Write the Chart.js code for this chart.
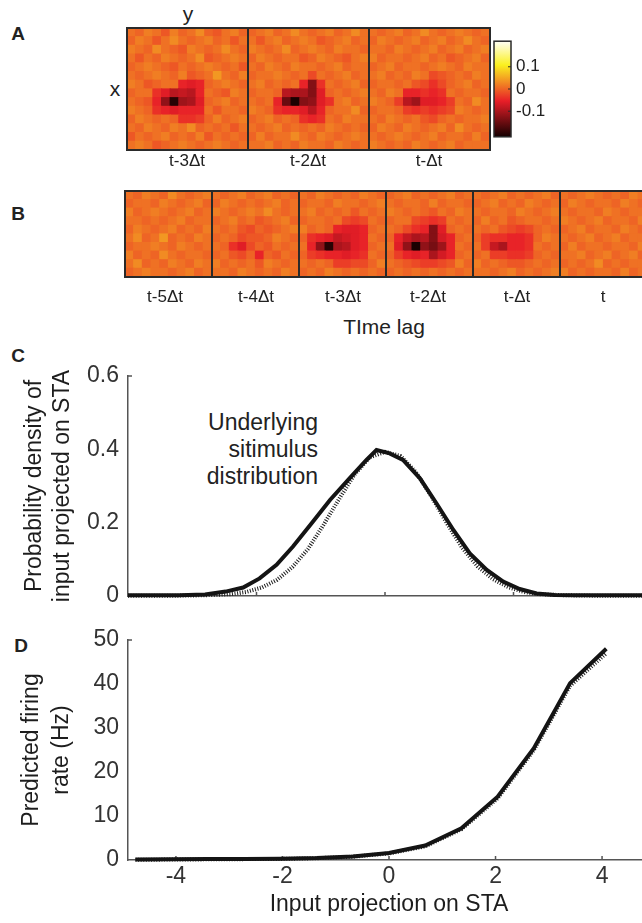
<!DOCTYPE html>
<html>
<head>
<meta charset="utf-8">
<script src="https://cdn.jsdelivr.net/npm/chart.js@4.4.1/dist/chart.umd.min.js"></script>
<style>
  html, body { margin: 0; padding: 0; background: #fff; }
  body { width: 642px; height: 923px; position: relative; overflow: hidden;
         font-family: "Liberation Sans", Arial, sans-serif; color: #222; }
  canvas { position: absolute; }
  .lbl { position: absolute; transform: translate(-50%, -50%); white-space: nowrap; line-height: 1; }
  .panel { font-weight: bold; font-size: 19px; }
  .axis { font-size: 21px; }
  .lag { font-size: 17px; }
  .note { position: absolute; right: 324px; top: 409px; text-align: right;
          font-size: 23px; line-height: 27px; white-space: nowrap; }
</style>
</head>
<body>
<div class="lbl panel" style="left:18px;top:33px">A</div>
<div class="lbl panel" style="left:18px;top:213px">B</div>
<div class="lbl panel" style="left:18px;top:355px">C</div>
<div class="lbl panel" style="left:21px;top:645px">D</div>
<div class="lbl axis" style="left:188px;top:13px">y</div>
<div class="lbl axis" style="left:115px;top:88px">x</div>
<div class="lbl axis" style="left:384px;top:326px">TIme lag</div>
<div class="note">Underlying<br>sitimulus<br>distribution</div>

<canvas id="heatA0" width="123" height="124" style="left:126px;top:27px"></canvas>
<canvas id="heatA1" width="123" height="124" style="left:247px;top:27px"></canvas>
<canvas id="heatA2" width="123" height="124" style="left:368px;top:27px"></canvas>
<canvas id="colorbar" width="60" height="126" style="left:492px;top:26px"></canvas>

<canvas id="heatB0" width="89" height="88" style="left:124px;top:190px"></canvas>
<canvas id="heatB1" width="89" height="88" style="left:211px;top:190px"></canvas>
<canvas id="heatB2" width="89" height="88" style="left:298px;top:190px"></canvas>
<canvas id="heatB3" width="89" height="88" style="left:385px;top:190px"></canvas>
<canvas id="heatB4" width="89" height="88" style="left:472px;top:190px"></canvas>
<canvas id="heatB5" width="89" height="88" style="left:559px;top:190px"></canvas>

<canvas id="densityChart" width="642" height="268" style="left:0;top:352px"></canvas>
<canvas id="rateChart" width="650" height="307" style="left:0;top:616px"></canvas>

<script>
// spike-triggered average frames, values in units of 0.01 (rows top to bottom)
const staA_t3 = [
  [1, 0, 2, 1, -1, 2, 0, 1, 3, 0, -1, 1, 2, 0],
  [0, 2, 1, -1, 1, 3, 1, 0, 1, 2, 0, 1, -1, 1],
  [2, 1, 0, 3, 1, 0, -1, 2, 1, 0, 1, 3, 1, 0],
  [1, -1, 1, 0, 2, 1, 0, 1, 3, -1, 0, 1, 2, 1],
  [0, 1, 2, 1, 0, -1, 1, 0, 1, 2, 1, 0, 1, -1],
  [1, 0, 1, 2, 1, 0, 2, -1, 0, 1, 4, 1, 0, 2],
  [2, 1, -1, 0, 1, 1, -5, -6, -5, 0, 1, 2, 1, 0],
  [0, 1, 1, -4, -6, -9, -8, -9, -5, 1, 0, -1, 2, 1],
  [1, 0, -1, -5, -12, -20, -11, -10, -6, 0, 1, 2, 0, 1],
  [2, 1, 0, -4, -5, -6, -5, -5, -5, 1, -1, 1, 1, 0],
  [0, 2, 1, 0, 1, 0, -4, -4, -3, 0, 2, 0, 1, 2],
  [1, 0, 2, 1, 0, 2, 1, 3, 0, 1, 0, 1, -1, 1],
  [-1, 1, 0, 1, 2, 0, 1, 0, 2, -1, 1, 0, 1, 0],
  [1, 2, 1, -1, 0, 1, 2, 1, 0, 1, 2, 1, 0, 1]
];
const staA_t2 = [
  [0, 1, 2, 0, 1, 3, 1, 0, 1, 2, 0, 1, 3, 1],
  [1, -1, 1, 2, 0, 1, 2, 1, -1, 0, 1, 2, 0, 1],
  [2, 1, 0, 1, 3, 0, 1, 2, 1, 0, 2, 1, 1, 0],
  [0, 2, 1, 0, 1, 1, -1, 0, 2, 1, 0, -1, 1, 2],
  [1, 0, 2, 1, 0, 2, 1, 1, 0, 1, 2, 0, 1, 1],
  [0, 1, 1, 2, 1, 0, 1, -2, 1, 0, 1, 2, 0, 1],
  [1, 2, 0, 1, 0, 1, -5, -13, -4, 1, 0, 1, 2, 0],
  [0, 1, 1, 0, -9, -10, -10, -13, -6, 0, 1, 0, 1, 2],
  [1, 0, 1, -5, -15, -21, -13, -12, -6, -4, 1, 2, 0, 1],
  [2, 1, 0, -4, -5, -5, -6, -9, -5, 0, 1, 1, 3, 0],
  [0, 1, 2, 0, 1, 0, -4, -5, -4, 1, 0, 2, 1, 1],
  [1, 0, 1, 2, 0, 1, 0, 1, 0, 2, 1, 0, 1, 0],
  [0, 2, 0, 1, 1, 3, 1, 0, 2, 1, 0, 1, 2, 1],
  [1, 1, 2, 0, 1, 0, 2, 1, 1, 0, 2, 1, 0, 1]
];
const staA_t1 = [
  [1, 0, 1, 2, 0, 1, 3, 1, 0, 1, 2, 1, 0, 1],
  [0, 2, 1, 0, 1, 2, 0, 1, 2, 0, 1, 3, 1, 0],
  [1, 1, 0, 2, 1, 0, 1, 2, 0, 1, 2, 0, 1, 2],
  [2, 0, 1, 1, 0, 1, 2, 0, 1, -1, 0, 1, 2, 0],
  [0, 1, 2, 0, 1, 1, 0, 1, 2, 1, 0, 2, 1, 1],
  [1, 2, 0, 1, 0, 2, 1, -2, -1, 0, 1, 0, 2, 1],
  [0, 1, 1, 0, 1, -1, -2, -4, -2, 0, 1, 2, 0, 1],
  [1, 0, 2, 1, -5, -5, -4, -5, -4, 1, 0, 1, 1, 0],
  [2, 1, 0, -3, -9, -11, -6, -6, -5, -3, 1, 0, 3, 1],
  [0, 1, 1, 0, -3, -4, -3, -4, -3, -2, 2, 1, 0, 1],
  [1, 0, 2, 1, 0, 1, -1, -2, 0, 1, 0, 1, 1, 2],
  [0, 2, 1, 0, 2, 1, 0, 1, 2, 0, 3, 1, 0, 1],
  [1, 0, 1, 2, 1, 0, 1, 2, 0, 1, 1, 0, 2, 0],
  [2, 1, 0, 1, 0, 2, 1, 0, 1, 2, 0, 1, 1, 1]
];

const staB_t5 = [
  [1, 0, 2, 1, 0, 3, 1, 0, 1, 2],
  [0, 1, 1, 0, 2, 1, 0, 1, 2, 0],
  [2, 0, 1, 2, 1, 0, 1, 2, 0, 1],
  [1, 1, 0, 1, 0, 1, 2, 0, 1, 1],
  [0, 2, 1, 0, 1, 2, 0, 1, 0, 2],
  [1, 3, 0, 1, 4, 0, 1, 0, 2, 1],
  [0, 1, 1, 2, 1, 0, 2, 1, 0, 1],
  [2, 0, 1, 0, 3, 1, 0, 1, 1, 0],
  [1, 3, 0, 1, 0, 2, 1, 0, 2, 1],
  [0, 1, 2, 1, 1, 0, 1, 2, 0, 1]
];
const staB_t4 = [
  [1, 0, 1, 2, 0, 1, 2, 0, 1, 0],
  [0, 2, 1, 0, 1, 0, 1, 2, 0, 1],
  [2, 1, 0, 1, 2, 1, 3, 1, 0, 1],
  [0, 1, 2, 0, 1, -1, 0, 1, 2, 0],
  [1, 0, 1, -1, -2, 0, -1, 0, 1, 2],
  [0, 1, 0, -2, -1, -1, 0, 2, 1, 0],
  [1, 0, -4, -6, -2, 0, -1, 1, 0, 1],
  [0, 1, -1, -2, 0, -5, 0, -1, 1, 0],
  [2, 0, 1, 0, 1, -1, 2, 1, 0, 1],
  [1, 1, 0, 2, 1, 0, 1, 0, 2, 1]
];
const staB_t3 = [
  [1, 0, 2, 1, 0, 1, 0, 2, 1, 0],
  [0, 1, 1, 0, 2, 1, 1, 0, 1, 2],
  [1, 2, 0, 1, 0, 1, -1, 1, 0, 1],
  [0, 1, 1, 0, 1, -2, -3, -2, 1, 0],
  [2, 0, 1, 0, -5, -6, -6, -5, 0, 1],
  [0, -4, -5, -6, -8, -7, -6, -5, 1, 0],
  [1, -5, -12, -20, -10, -9, -6, -5, 0, 1],
  [0, -3, -4, -5, -5, -6, -5, -4, 1, 0],
  [1, 0, 1, 0, -3, -3, -2, -2, 0, 2],
  [0, 1, 0, 2, 1, 0, 1, 0, 1, 0]
];
const staB_t2 = [
  [0, 1, 2, 0, 1, 0, 1, 2, 0, 1],
  [1, 0, 1, 1, 0, 2, 0, 1, 1, 0],
  [2, 1, 0, 1, 0, -1, 1, 0, 2, 1],
  [0, 1, 1, -2, -3, -4, -3, 1, 0, 1],
  [1, 0, -2, -4, -5, -13, -6, 0, 1, 0],
  [0, -5, -8, -10, -9, -13, -7, -5, 0, 1],
  [1, -6, -12, -21, -12, -14, -11, -5, 1, 0],
  [0, -3, -5, -6, -5, -10, -7, -5, 0, 1],
  [1, 0, -1, -2, -3, -3, -2, -1, 2, 0],
  [0, 1, 0, 1, 0, 1, 0, 1, 0, 1]
];
const staB_t1 = [
  [1, 0, 1, 2, 0, 1, 0, 1, 2, 0],
  [0, 1, 2, 0, 1, 0, 2, 1, 0, 1],
  [1, 0, 1, 1, 0, 2, 1, 0, 1, 2],
  [0, 2, 0, 1, -1, 0, 1, 1, 0, 1],
  [1, 0, 1, -1, -2, -3, -2, 0, 1, 0],
  [0, -3, -4, -4, -5, -5, -4, 0, 2, 1],
  [1, -3, -8, -10, -5, -5, -4, 1, 0, 1],
  [0, 1, -3, -3, -4, -4, -3, 0, 1, 0],
  [2, 0, 1, 0, -1, -1, 0, 1, 0, 1],
  [1, 1, 0, 1, 2, 0, 1, 0, 1, 2]
];
const staB_t0 = [
  [1, 0, 1, 2, 1, 0, 1, 0, 2, 1],
  [0, 2, 1, 0, 1, 1, 0, 2, 1, 0],
  [1, 0, 1, 1, 0, 2, 1, 0, 1, 1],
  [2, 1, 0, 1, 2, 0, 1, 1, 0, 2],
  [0, 1, 2, 0, 1, 1, 0, 2, 1, 0],
  [1, 0, 1, 2, 0, 1, 2, 0, 1, 1],
  [0, 2, 0, 1, 1, 0, 1, 1, 0, 2],
  [1, 1, 2, 0, 1, 2, 0, 1, 2, 0],
  [0, 1, 0, 1, 3, 0, 1, 0, 1, 1],
  [2, 0, 1, 0, 1, 1, 0, 2, 0, 1]
];

const lagLabelsA = ['t-3Δt', 't-2Δt', 't-Δt'];
const lagLabelsB = ['t-5Δt', 't-4Δt', 't-3Δt', 't-2Δt', 't-Δt', 't'];
const colorLim = [-0.215, 0.215];
const colorTicks = [-0.1, 0, 0.1];

// panel C: density of the input projected on the STA
const densityX = [-5, -4.5, -4, -3.5, -3.1, -2.76, -2.44, -2.11, -1.79, -1.4, -1.07, -0.69, -0.36, -0.165,
  0.09, 0.35, 0.68, 1.0, 1.33, 1.65, 1.98, 2.3, 2.62, 2.95, 3.3, 3.7, 4.2, 5];
const densityMeasured = [0.002, 0.002, 0.002, 0.004, 0.012, 0.023, 0.048, 0.085, 0.135, 0.203, 0.262, 0.321, 0.371, 0.398,
  0.389, 0.371, 0.321, 0.253, 0.18, 0.116, 0.071, 0.039, 0.019, 0.007, 0.003, 0.002, 0.002, 0.002];
const stimulusX = [-5, -4, -3.5, -3, -2.7, -2.4, -2.1, -1.8, -1.5, -1.2, -0.9, -0.6, -0.3, 0,
  0.3, 0.6, 0.9, 1.2, 1.5, 1.8, 2.1, 2.4, 2.7, 3, 3.5, 4, 5];
const densityStimulus = [0.001, 0.001, 0.002, 0.005, 0.011, 0.023, 0.044, 0.079, 0.128, 0.193, 0.263, 0.33, 0.378, 0.393,
  0.382, 0.338, 0.272, 0.199, 0.132, 0.081, 0.046, 0.024, 0.011, 0.005, 0.002, 0.001, 0.001];
const densityTicksX = [-2.5, 0, 2.5];

// panel D: predicted firing rate
const rateX = [-4.76, -4.08, -3.4, -2.72, -2.04, -1.36, -0.68, 0, 0.68, 1.36, 2.04, 2.72, 3.4, 4.08];
const rateMeasured = [0.1, 0.15, 0.2, 0.25, 0.3, 0.45, 0.8, 1.6, 3.3, 7.2, 14.4, 25.4, 40.2, 48.0];
const rateModel = [0.05, 0.1, 0.15, 0.2, 0.25, 0.4, 0.75, 1.5, 3.1, 7.0, 14.0, 25.0, 39.6, 47.0];
const rateTicksX = [-4, -2, 0, 2, 4];

const fontFamily = '"Liberation Sans", Arial, sans-serif';
Chart.defaults.font.family = fontFamily;
Chart.defaults.color = '#333';

// black -> red -> yellow -> white
const hotStops = [[0, [20, 0, 0]], [0.375, [232, 30, 40]], [0.75, [250, 240, 30]], [1, [255, 255, 248]]];
function hotColor(v) {
  let p = (v - colorLim[0]) / (colorLim[1] - colorLim[0]);
  p = Math.min(1, Math.max(0, p));
  for (let i = 1; i < hotStops.length; i++) {
    const [p0, c0] = hotStops[i - 1];
    const [p1, c1] = hotStops[i];
    if (p <= p1) {
      const t = (p - p0) / (p1 - p0);
      return 'rgb(' + c0.map((c, k) => Math.round(c + (c1[k] - c) * t)).join(',') + ')';
    }
  }
}

const frameBox = {
  id: 'frameBox',
  afterDraw(chart, args, opts) {
    const a = chart.chartArea;
    const ctx = chart.ctx;
    ctx.save();
    ctx.strokeStyle = opts.color;
    ctx.lineWidth = opts.width;
    ctx.strokeRect(a.left, a.top, a.right - a.left, a.bottom - a.top);
    ctx.restore();
  }
};

// matlab style ticks pointing into the plot
const innerTicks = {
  id: 'innerTicks',
  beforeDatasetsDraw(chart, args, opts) {
    const { ctx, chartArea: a, scales } = chart;
    ctx.save();
    ctx.strokeStyle = opts.color;
    ctx.lineWidth = opts.width;
    ctx.beginPath();
    (opts.x || []).forEach(v => {
      const px = scales.x.getPixelForValue(v);
      ctx.moveTo(px, a.bottom);
      ctx.lineTo(px, a.bottom - opts.length);
    });
    (opts.y || []).forEach(v => {
      const py = scales.y.getPixelForValue(v);
      ctx.moveTo(a.left, py);
      ctx.lineTo(a.left + opts.length, py);
    });
    ctx.stroke();
    ctx.restore();
  },
  afterDatasetsDraw(chart, args, opts) {
    if (!opts.yRight) return;
    const { ctx, chartArea: a, scales } = chart;
    ctx.save();
    ctx.strokeStyle = opts.color;
    ctx.lineWidth = opts.width;
    ctx.beginPath();
    opts.yRight.forEach(v => {
      const py = scales.y.getPixelForValue(v);
      ctx.moveTo(a.right, py);
      ctx.lineTo(a.right - opts.length, py);
    });
    ctx.stroke();
    ctx.restore();
  }
};

function heatFrame(id, grid) {
  const n = grid.length;
  // one stacked dataset per row, bottom row first
  const datasets = grid.slice().reverse().map(row => ({
    data: row.map(() => 1),
    backgroundColor: row.map(v => hotColor(v / 100)),
    borderWidth: 0,
    barPercentage: 1,
    categoryPercentage: 1,
    inflateAmount: 0.6
  }));
  new Chart(document.getElementById(id), {
    type: 'bar',
    data: { labels: grid[0].map((_, i) => i), datasets },
    options: {
      responsive: false,
      animation: false,
      events: [],
      layout: { padding: 1 },
      plugins: {
        legend: { display: false },
        tooltip: { enabled: false },
        frameBox: { color: '#2a2a2a', width: 2 }
      },
      scales: {
        x: { display: false, stacked: true },
        y: { display: false, stacked: true, min: 0, max: n }
      }
    },
    plugins: [frameBox]
  });
}

[staA_t3, staA_t2, staA_t1].forEach((g, i) => heatFrame('heatA' + i, g));
[staB_t5, staB_t4, staB_t3, staB_t2, staB_t1, staB_t0].forEach((g, i) => heatFrame('heatB' + i, g));

// frame labels
function addLabel(text, x, y, cls) {
  const d = document.createElement('div');
  d.className = 'lbl ' + cls;
  d.style.left = x + 'px';
  d.style.top = y + 'px';
  d.textContent = text;
  document.body.appendChild(d);
}
const lagPosA = [187, 308, 429];
const lagPosB = [165, 256, 343, 428, 517, 603];
lagLabelsA.forEach((t, i) => addLabel(t, lagPosA[i], 160, 'lag'));
lagLabelsB.forEach((t, i) => addLabel(t, lagPosB[i], 296, 'lag'));

// colour bar
new Chart(document.getElementById('colorbar'), {
  type: 'bar',
  data: {
    labels: [''],
    datasets: [{
      data: [colorLim],
      barPercentage: 1,
      categoryPercentage: 1,
      borderWidth: 0,
      backgroundColor: (ctx) => {
        const area = ctx.chart.chartArea;
        if (!area) return null;
        const g = ctx.chart.ctx.createLinearGradient(0, area.bottom, 0, area.top);
        for (let i = 0; i <= 40; i++) {
          g.addColorStop(i / 40, hotColor(colorLim[0] + (colorLim[1] - colorLim[0]) * i / 40));
        }
        return g;
      }
    }]
  },
  options: {
    responsive: false,
    animation: false,
    events: [],
    layout: { padding: { left: 2, top: 2, bottom: 2, right: 0 } },
    plugins: {
      legend: { display: false },
      tooltip: { enabled: false },
      frameBox: { color: '#2a2a2a', width: 1.5 },
      innerTicks: { yRight: colorTicks, length: 3, color: '#2a2a2a', width: 1 }
    },
    scales: {
      x: { display: false },
      y: {
        position: 'right',
        min: colorLim[0],
        max: colorLim[1],
        grid: { display: false, drawTicks: false },
        border: { display: false },
        afterBuildTicks: s => { s.ticks = colorTicks.map(v => ({ value: v })); },
        afterFit: s => { s.width = 41; },
        ticks: { padding: 5, color: '#222', font: { size: 17 }, callback: v => String(v) }
      }
    }
  },
  plugins: [frameBox, innerTicks]
});

const axisBorder = { color: '#555', width: 1.5 };
const tickFont = { size: 23 };

// panel C
new Chart(document.getElementById('densityChart'), {
  type: 'line',
  data: {
    datasets: [{
      data: densityX.map((x, i) => ({ x, y: densityMeasured[i] })),
      borderColor: '#141414',
      borderWidth: 4,
      pointRadius: 0,
      clip: false
    }, {
      data: stimulusX.map((x, i) => ({ x, y: densityStimulus[i] })),
      borderColor: '#1c1c1c',
      borderWidth: 4,
      borderDash: [1, 1.6],
      pointRadius: 0,
      clip: false
    }]
  },
  options: {
    responsive: false,
    animation: false,
    events: [],
    layout: { padding: { top: 24, left: 0, right: 0, bottom: 0 } },
    plugins: {
      legend: { display: false },
      tooltip: { enabled: false },
      innerTicks: { x: densityTicksX, y: [0.6], length: 4, color: '#555', width: 1.5 }
    },
    scales: {
      x: {
        type: 'linear', min: -5, max: 5,
        grid: { display: false, drawTicks: false },
        border: axisBorder,
        ticks: { display: false },
        afterFit: s => { s.height = 24; }
      },
      y: {
        min: 0, max: 0.6,
        grid: { display: false, drawTicks: false },
        border: axisBorder,
        ticks: { stepSize: 0.2, padding: 9, color: '#333', font: tickFont },
        title: {
          display: true,
          text: ['Probability density of', 'input projected on STA'],
          color: '#1d1d1d',
          font: { size: 23, lineHeight: 1.22 },
          padding: { top: 21, bottom: 0 }
        },
        afterFit: s => { s.width = 128; }
      }
    }
  },
  plugins: [innerTicks]
});

// panel D
new Chart(document.getElementById('rateChart'), {
  type: 'line',
  data: {
    datasets: [{
      data: rateX.map((x, i) => ({ x, y: rateMeasured[i] })),
      borderColor: '#141414',
      borderWidth: 4,
      pointRadius: 0,
      clip: false
    }, {
      data: rateX.map((x, i) => ({ x, y: rateModel[i] })),
      borderColor: '#1c1c1c',
      borderWidth: 4,
      borderDash: [1, 1.6],
      pointRadius: 0,
      clip: false
    }]
  },
  options: {
    responsive: false,
    animation: false,
    events: [],
    layout: { padding: { top: 24, left: 0, right: 0, bottom: 0 } },
    plugins: {
      legend: { display: false },
      tooltip: { enabled: false },
      innerTicks: { x: rateTicksX, y: [50], length: 4, color: '#555', width: 1.5 }
    },
    scales: {
      x: {
        type: 'linear', min: -4.9, max: 4.9,
        grid: { display: false, drawTicks: false },
        border: axisBorder,
        afterBuildTicks: s => { s.ticks = rateTicksX.map(v => ({ value: v })); },
        ticks: { padding: 3, color: '#333', font: tickFont, maxRotation: 0 },
        title: {
          display: true,
          text: 'Input projection on STA',
          color: '#1d1d1d',
          font: { size: 23, lineHeight: 1.2 },
          padding: { top: 0, bottom: 5 }
        },
        afterFit: s => { s.height = 63; }
      },
      y: {
        min: 0, max: 50,
        grid: { display: false, drawTicks: false },
        border: axisBorder,
        ticks: { stepSize: 10, padding: 9, color: '#333', font: tickFont },
        title: {
          display: true,
          text: ['Predicted firing', 'rate (Hz)'],
          color: '#1d1d1d',
          font: { size: 23, lineHeight: 1.3 },
          padding: { top: 17, bottom: 0 }
        },
        afterFit: s => { s.width = 128; }
      }
    }
  },
  plugins: [innerTicks]
});
</script>
</body>
</html>
